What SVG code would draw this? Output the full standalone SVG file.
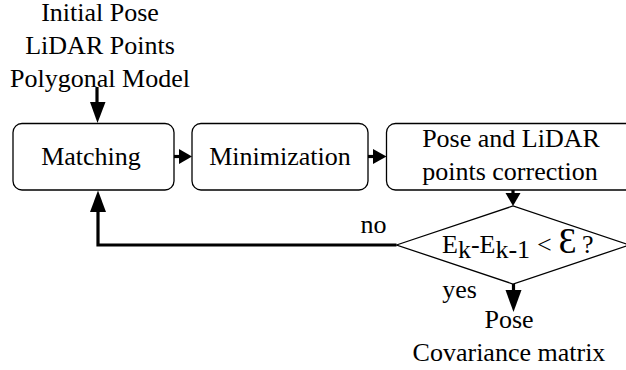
<svg xmlns="http://www.w3.org/2000/svg" width="626" height="370" viewBox="0 0 626 370">
<style>
text{font-family:"Liberation Serif","Times New Roman",serif;font-size:26px;fill:#000;text-anchor:middle}
.n{fill:#fff;stroke:#000;stroke-width:1.3}
.c{fill:none;stroke:#000;stroke-width:3.2}
.h{fill:#000;stroke:none}
</style>
<rect width="626" height="370" fill="#fff"/>
<g id="inputs">
<text x="100" y="21">Initial Pose</text>
<text x="100" y="54">LiDAR Points</text>
<text x="100" y="87">Polygonal Model</text>
</g>
<g id="matching"><rect class="n" x="13" y="123.500" width="161" height="66.500" rx="9"/><text x="91" y="165">Matching</text></g>
<g id="minimization"><rect class="n" x="192" y="123.500" width="176" height="66.500" rx="9"/><text x="280" y="165">Minimization</text></g>
<g id="correction"><rect class="n" x="386.500" y="123.500" width="250" height="66.500" rx="9"/><text x="511" y="147">Pose and LiDAR</text><text x="510" y="180">points correction</text></g>
<g id="decision"><polygon class="n" points="396.500,245 513,206 629.500,245 513,284"/>
<text x="442" y="253" style="text-anchor:start">E<tspan dy="5">k</tspan><tspan dy="-5">-E</tspan><tspan dy="5">k-1</tspan><tspan dy="-5" x="537">&lt;</tspan><tspan x="558.500" font-size="36">&#400;</tspan><tspan x="582">?</tspan></text></g>
<g id="connectors">
<path class="c" d="M97 87V105"/><path class="h" d="M90 102H105.500L97.500 123Z"/>
<path class="c" d="M174 156.500H180"/><path class="h" d="M179 149V164L192 156.500Z"/>
<path class="c" d="M368 156.500H374"/><path class="h" d="M373 149V164L386.500 156.500Z"/>
<path class="c" d="M513 190V195"/><path class="h" d="M505.500 193H520.500L513 206Z"/>
<path class="c" d="M396.500 245H98V210"/><path class="h" d="M90 212H106L98 190.500Z"/>
<path class="c" d="M513.500 284V294"/><path class="h" d="M505.500 290H521.500L513.500 312Z"/>
</g>
<g id="labels">
<text x="373.500" y="233">no</text>
<text x="459.500" y="298">yes</text>
<text x="509" y="328">Pose</text>
<text x="509" y="361">Covariance matrix</text>
</g>
</svg>
